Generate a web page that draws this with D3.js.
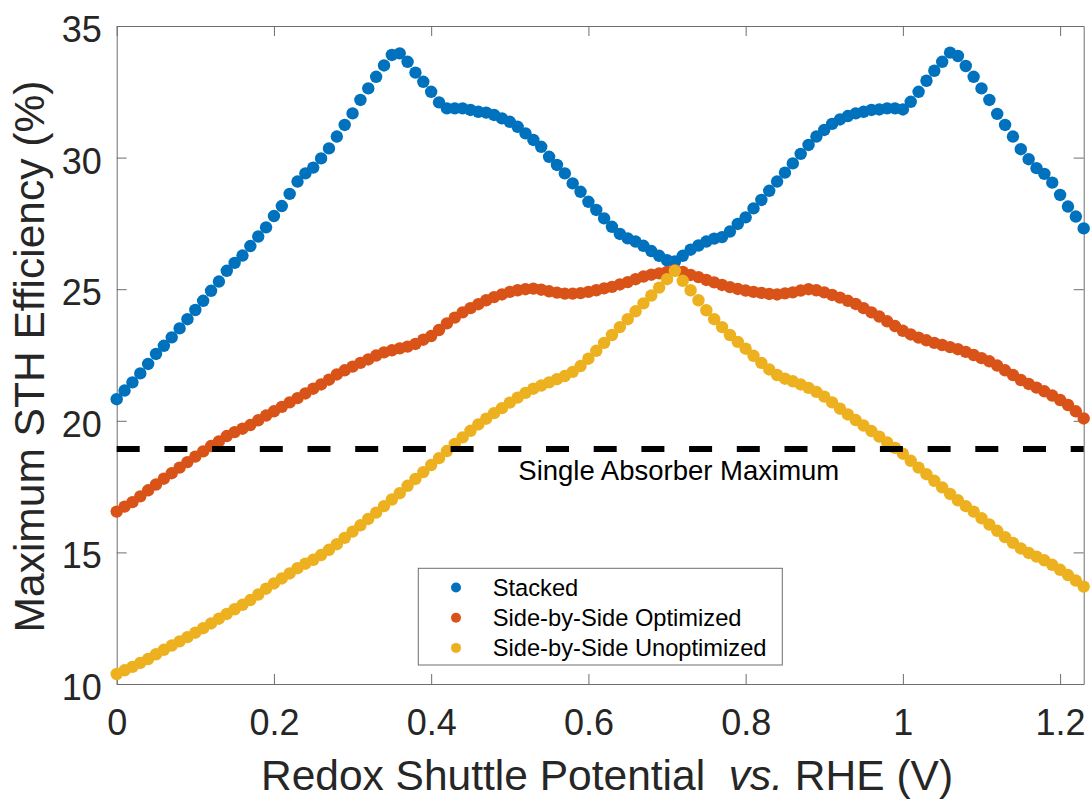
<!DOCTYPE html>
<html>
<head>
<meta charset="utf-8">
<script src="https://cdn.jsdelivr.net/npm/d3@7"></script>
<style>
  html, body { margin: 0; padding: 0; background: #ffffff; }
  svg { display: block; font-family: "Liberation Sans", Arial, Helvetica, sans-serif; }
</style>
</head>
<body>
<svg id="chart" width="1091" height="799"></svg>
<script>
// ---------------- data ----------------
const potential = [
  0.00,0.01,0.02,0.03,0.04,0.05,0.06,0.07,0.08,0.09,
  0.10,0.11,0.12,0.13,0.14,0.15,0.16,0.17,0.18,0.19,
  0.20,0.21,0.22,0.23,0.24,0.25,0.26,0.27,0.28,0.29,
  0.30,0.31,0.32,0.33,0.34,0.35,0.36,0.37,0.38,0.39,
  0.40,0.41,0.42,0.43,0.44,0.45,0.46,0.47,0.48,0.49,
  0.50,0.51,0.52,0.53,0.54,0.55,0.56,0.57,0.58,0.59,
  0.60,0.61,0.62,0.63,0.64,0.65,0.66,0.67,0.68,0.69,
  0.70,0.71,0.72,0.73,0.74,0.75,0.76,0.77,0.78,0.79,
  0.80,0.81,0.82,0.83,0.84,0.85,0.86,0.87,0.88,0.89,
  0.90,0.91,0.92,0.93,0.94,0.95,0.96,0.97,0.98,0.99,
  1.00,1.01,1.02,1.03,1.04,1.05,1.06,1.07,1.08,1.09,
  1.10,1.11,1.12,1.13,1.14,1.15,1.16,1.17,1.18,1.19,
  1.20,1.21,1.22,1.23
];

const stacked = [
  20.82,21.15,21.46,21.80,22.16,22.54,22.85,23.17,23.51,23.86,
  24.21,24.56,24.94,25.29,25.70,26.00,26.28,26.64,27.00,27.35,
  27.78,28.16,28.62,29.09,29.40,29.62,29.97,30.35,30.80,31.24,
  31.68,32.19,32.63,33.07,33.50,33.90,33.96,33.64,33.23,32.88,
  32.50,32.10,31.87,31.87,31.87,31.81,31.74,31.71,31.62,31.49,
  31.36,31.17,30.92,30.67,30.41,30.03,29.72,29.40,29.02,28.70,
  28.32,28.01,27.69,27.37,27.10,26.93,26.81,26.65,26.45,26.27,
  26.10,26.05,26.27,26.50,26.66,26.81,26.92,26.98,27.19,27.48,
  27.73,28.07,28.39,28.74,29.09,29.43,29.78,30.14,30.48,30.80,
  31.05,31.28,31.45,31.58,31.68,31.74,31.81,31.83,31.87,31.87,
  31.83,32.12,32.50,32.92,33.30,33.64,33.99,33.86,33.48,33.07,
  32.63,32.19,31.66,31.24,30.80,30.32,29.94,29.60,29.38,29.05,
  28.58,28.14,27.76,27.31
];

const sideOptimized = [
  16.55,16.74,16.91,17.13,17.36,17.58,17.80,18.01,18.22,18.43,
  18.64,18.84,19.04,19.22,19.42,19.57,19.70,19.84,20.02,20.20,
  20.36,20.53,20.70,20.86,21.04,21.22,21.38,21.56,21.76,21.92,
  22.06,22.20,22.33,22.48,22.60,22.68,22.75,22.82,22.92,23.08,
  23.22,23.45,23.70,23.92,24.12,24.28,24.43,24.58,24.70,24.80,
  24.90,24.96,25.00,25.02,24.98,24.92,24.87,24.83,24.83,24.85,
  24.90,24.96,25.03,25.09,25.18,25.27,25.38,25.48,25.55,25.60,
  25.66,25.72,25.66,25.54,25.46,25.35,25.26,25.16,25.08,25.01,
  24.95,24.90,24.86,24.82,24.80,24.84,24.88,24.95,25.00,24.96,
  24.88,24.78,24.68,24.56,24.44,24.28,24.12,23.96,23.78,23.60,
  23.42,23.28,23.16,23.06,22.96,22.88,22.80,22.72,22.62,22.50,
  22.38,22.26,22.10,21.92,21.74,21.55,21.40,21.26,21.12,20.96,
  20.79,20.60,20.36,20.09
];

const sideUnoptimized = [
  10.38,10.52,10.65,10.80,10.95,11.13,11.30,11.46,11.62,11.78,
  11.95,12.12,12.30,12.48,12.66,12.84,13.01,13.19,13.40,13.62,
  13.82,14.01,14.20,14.40,14.57,14.72,14.90,15.10,15.31,15.55,
  15.79,16.03,16.27,16.51,16.76,17.01,17.25,17.53,17.79,18.05,
  18.32,18.58,18.85,19.12,19.37,19.62,19.86,20.08,20.29,20.48,
  20.69,20.88,21.06,21.22,21.34,21.46,21.58,21.70,21.86,22.08,
  22.36,22.66,22.96,23.26,23.56,23.86,24.16,24.46,24.76,25.06,
  25.38,25.70,25.32,24.96,24.58,24.20,23.86,23.56,23.26,23.00,
  22.74,22.47,22.20,21.95,21.74,21.60,21.50,21.38,21.25,21.10,
  20.92,20.70,20.46,20.24,20.03,19.82,19.61,19.40,19.18,18.97,
  18.75,18.48,18.22,17.97,17.72,17.47,17.22,16.98,16.76,16.55,
  16.30,16.06,15.82,15.58,15.36,15.15,14.98,14.84,14.70,14.53,
  14.34,14.14,13.93,13.70
];

const seriesNames = ["Stacked", "Side-by-Side Optimized", "Side-by-Side Unoptimized"];
const seriesColors = ["#0072BD", "#D95319", "#EDB120"];
const singleAbsorberMax = 18.93;
const singleAbsorberLabel = "Single Absorber Maximum";
const xTicks = [0, 0.2, 0.4, 0.6, 0.8, 1, 1.2];
const xTickLabels = ["0", "0.2", "0.4", "0.6", "0.8", "1", "1.2"];
const yTicks = [10, 15, 20, 25, 30, 35];
const yTickLabels = ["10", "15", "20", "25", "30", "35"];
const xDomain = [0, 1.23];
const yDomain = [10, 35];

// ---------------- layout ----------------
const svg = d3.select("#chart");
const L = 116.7, R = 1083.7, T = 26, B = 684;
const x = d3.scaleLinear().domain(xDomain).range([L, R]);
const y = d3.scaleLinear().domain(yDomain).range([B, T]);

const axisColor = "#6e6e6e";
const textColor = "#262626";

function styleAxis(g) {
  g.select(".domain").attr("stroke", axisColor).attr("stroke-width", 1);
  g.selectAll(".tick line").attr("stroke", axisColor).attr("stroke-width", 1);
  g.selectAll(".tick text").attr("fill", textColor).attr("font-size", 36)
    .attr("font-family", "Liberation Sans, Arial, Helvetica, sans-serif");
}

// bottom axis
const gx = svg.append("g").attr("transform", `translate(0,${B})`)
  .call(d3.axisBottom(x).tickValues(xTicks).tickFormat((d, i) => xTickLabels[i])
    .tickSizeInner(-10).tickSizeOuter(0).tickPadding(25));
styleAxis(gx);
gx.selectAll(".tick text").attr("dy", "0.71em");

// top axis
const gxt = svg.append("g").attr("transform", `translate(0,${T})`)
  .call(d3.axisTop(x).tickValues(xTicks).tickFormat("").tickSizeInner(-10).tickSizeOuter(0));
styleAxis(gxt);

// left axis
const gy = svg.append("g").attr("transform", `translate(${L},0)`)
  .call(d3.axisLeft(y).tickValues(yTicks).tickFormat((d, i) => yTickLabels[i])
    .tickSizeInner(-10).tickSizeOuter(0).tickPadding(15));
styleAxis(gy);
gy.selectAll(".tick text").attr("dy", "0.43em");

// right axis
const gyr = svg.append("g").attr("transform", `translate(${R},0)`)
  .call(d3.axisRight(y).tickValues(yTicks).tickFormat("").tickSizeInner(-10).tickSizeOuter(0));
styleAxis(gyr);

// ---------------- data points ----------------
const allSeries = [stacked, sideOptimized, sideUnoptimized];
allSeries.forEach((vals, si) => {
  svg.append("g").attr("class", "series-" + si)
    .selectAll("circle")
    .data(potential.map((p, i) => ({ p, v: vals[i] })))
    .join("circle")
    .attr("cx", d => x(d.p))
    .attr("cy", d => y(d.v))
    .attr("r", 6.2)
    .attr("fill", seriesColors[si]);
});

// ---------------- single absorber line ----------------
svg.append("line")
  .attr("x1", x(xDomain[0])).attr("x2", x(xDomain[1]))
  .attr("y1", y(singleAbsorberMax)).attr("y2", y(singleAbsorberMax))
  .attr("stroke", "#000").attr("stroke-width", 6)
  .attr("stroke-dasharray", "23,24.7");

svg.append("text")
  .attr("x", 518.3).attr("y", 480)
  .attr("font-size", 27.5).attr("fill", "#000")
  .text(singleAbsorberLabel);

// ---------------- legend ----------------
const lg = svg.append("g");
lg.append("rect")
  .attr("x", 418.3).attr("y", 568.3).attr("width", 364).attr("height", 96.7)
  .attr("fill", "#fff").attr("stroke", axisColor).attr("stroke-width", 1);
seriesNames.forEach((name, i) => {
  const cy = 587.5 + i * 30.2;
  lg.append("circle").attr("cx", 456).attr("cy", cy).attr("r", 5).attr("fill", seriesColors[i]);
  lg.append("text").attr("x", 492.7).attr("y", cy).attr("dy", "0.36em")
    .attr("font-size", 23.7).attr("fill", "#000").text(name);
});

// ---------------- axis titles ----------------
const xt = svg.append("text")
  .attr("x", 607).attr("y", 790)
  .attr("text-anchor", "middle")
  .attr("font-size", 42.5).attr("fill", textColor);
xt.append("tspan").text("Redox Shuttle Potential\u00A0\u00A0");
xt.append("tspan").attr("font-style", "italic").text("vs.");
xt.append("tspan").text(" RHE (V)");

svg.append("text")
  .attr("transform", `translate(43.5,356.5) rotate(-90)`)
  .attr("text-anchor", "middle")
  .attr("font-size", 42.5).attr("fill", textColor)
  .text("Maximum STH Efficiency (%)");
</script>
</body>
</html>
